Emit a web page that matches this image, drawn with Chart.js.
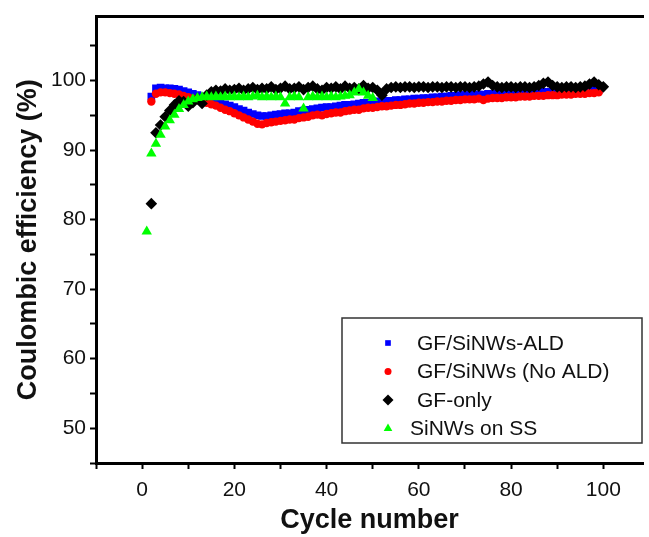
<!DOCTYPE html>
<html lang="en">
<head>
    <meta charset="UTF-8">
    <title>Coulombic efficiency vs cycle number</title>
    <script src="https://cdn.jsdelivr.net/npm/chart.js"></script>
    <style>
        body { margin: 0; background: #fff; overflow: hidden; }
        canvas { display: block; }
    </style>
</head>
<body>
    <canvas id="chart" width="649" height="537"></canvas>

    <script>
        // Series names (legend order)
        const seriesNames = ["GF/SiNWs-ALD", "GF/SiNWs (No ALD)", "GF-only", "SiNWs on SS"];

        // Coulombic efficiency (%), one value per cycle
        const aldStart = 2;
        const aldValues = [
            97.7, 98.9, 99.0, 98.9, 98.9, 98.8, 98.7, 98.5, 98.3,
            98.1, 97.9, 97.7, 97.5, 97.3, 97.1, 96.9, 96.6, 96.4, 96.2,
            95.9, 95.7, 95.4, 95.2, 95.0, 94.9, 94.9, 95.0, 95.1, 95.2,
            95.3, 95.3, 95.4, 95.6, 95.7, 95.8, 95.9, 96.0, 96.1, 96.2,
            96.2, 96.3, 96.4, 96.5, 96.5, 96.6, 96.7, 96.8, 96.8, 96.9,
            97.0, 97.0, 97.1, 97.1, 97.2, 97.2, 97.3, 97.3, 97.4, 97.4,
            97.5, 97.5, 97.6, 97.6, 97.7, 97.7, 97.8, 97.8, 97.9, 97.9,
            97.9, 98.0, 98.0, 98.0, 98.1, 98.1, 98.1, 98.2, 98.2, 98.2,
            98.3, 98.3, 98.3, 98.3, 98.4, 98.4, 98.4, 98.4, 98.5, 98.5,
            98.5, 98.5, 98.6, 98.6, 98.6, 98.6, 98.7, 98.7, 98.7
        ];

        const noAldStart = 2;
        const noAldValues = [
            97.0, 98.1, 98.3, 98.3, 98.2, 98.1, 98.0, 97.8, 97.6,
            97.4, 97.2, 97.0, 96.8, 96.6, 96.4, 96.1, 95.8, 95.6, 95.3,
            95.0, 94.7, 94.4, 94.1, 93.8, 93.7, 93.9, 94.0, 94.1, 94.2,
            94.3, 94.4, 94.4, 94.6, 94.7, 94.8, 95.0, 95.1, 95.0, 95.2,
            95.3, 95.4, 95.4, 95.6, 95.7, 95.8, 95.8, 96.0, 96.1, 96.1,
            96.2, 96.3, 96.3, 96.4, 96.5, 96.5, 96.6, 96.7, 96.7, 96.8,
            96.8, 96.9, 96.9, 97.0, 97.0, 97.1, 97.1, 97.2, 97.2, 97.3,
            97.3, 97.3, 97.4, 97.2, 97.4, 97.5, 97.5, 97.5, 97.6, 97.6,
            97.6, 97.7, 97.7, 97.7, 97.8, 97.8, 97.8, 97.9, 97.9, 97.9,
            98.0, 98.0, 98.0, 98.1, 98.1, 98.1, 98.2, 98.2, 98.3
        ];

        const gfStart = 2;
        const gfValues = [
            82.3, 92.5, 93.6, 94.8, 95.7, 96.5, 97.1, 97.0, 96.3,
            96.8, 97.4, 96.7, 97.9, 98.4, 98.6, 98.5, 98.8, 98.6, 98.7,
            98.9, 98.6, 98.8, 99.0, 98.7, 98.9, 98.8, 99.1, 98.7, 98.9,
            99.2, 98.8, 98.9, 99.1, 98.7, 99.0, 99.2, 98.8, 98.6, 99.0,
            98.9, 99.1, 98.8, 99.2, 98.9, 99.0, 98.8, 99.3, 98.9, 99.0,
            98.6, 97.9, 98.8, 99.0, 99.1, 99.0, 99.1, 99.1, 99.0, 99.1,
            99.1, 99.0, 99.1, 99.1, 99.0, 99.1, 99.1, 99.0, 99.1, 99.1,
            99.0, 99.1, 99.2, 99.5, 99.8, 99.3, 99.1, 99.0, 99.1, 99.1,
            99.0, 99.1, 99.1, 99.0, 99.1, 99.3, 99.6, 99.8, 99.3, 99.1,
            99.0, 99.1, 99.1, 99.0, 99.1, 99.2, 99.5, 99.8, 99.4, 99.1
        ];

        const ssStart = 1;
        const ssValues = [
            78.3, 89.5, 90.9, 92.2, 93.4, 94.3, 95.1, 95.9, 96.5, 97.0,
            97.3, 97.5, 97.6, 97.7, 97.6, 97.7, 97.6, 97.7, 97.6, 97.7,
            97.6, 97.7, 97.6, 97.7, 97.8, 97.6, 97.7, 97.6, 97.7, 97.6,
            96.7, 97.6, 97.7, 97.6, 96.0, 97.6, 97.7, 97.6, 97.7, 97.6,
            97.7, 97.6, 97.7, 97.8, 97.9, 98.3, 98.8, 98.3, 97.8, 97.5
        ];

        // Axis ticks
        const xTicks = [-10, 0, 10, 20, 30, 40, 50, 60, 70, 80, 90, 100];
        const xLabelled = [0, 20, 40, 60, 80, 100];
        const yTicks = [45, 50, 55, 60, 65, 70, 75, 80, 85, 90, 95, 100, 105];
        const yLabelled = [50, 60, 70, 80, 90, 100];

        function toPoints(start, values) {
            return values.map((v, i) => ({ x: start + i, y: v }));
        }

        const styles = [
            { color: "#0000ff", pointStyle: "rect", radius: 5.4, legendRadius: 4 },
            { color: "#ff0000", pointStyle: "circle", radius: 4.2, legendRadius: 3.5 },
            { color: "#000000", pointStyle: "rectRot", radius: 5.8, legendRadius: 5.5 },
            { color: "#00ff00", pointStyle: "triangle", radius: 6, legendRadius: 5 }
        ];

        const allData = [
            toPoints(aldStart, aldValues),
            toPoints(noAldStart, noAldValues),
            toPoints(gfStart, gfValues),
            toPoints(ssStart, ssValues)
        ];
        const drawOrder = [3, 2, 1, 0];

        const datasets = seriesNames.map((name, i) => ({
            label: name,
            data: allData[i],
            order: drawOrder[i],
            showLine: false,
            pointStyle: styles[i].pointStyle,
            pointRadius: styles[i].radius,
            pointBackgroundColor: styles[i].color,
            pointBorderColor: styles[i].color,
            pointBorderWidth: 0
        }));

        // Legend box drawn inside the plot like the original figure
        const boxLegend = {
            id: "boxLegend",
            afterDatasetsDraw(chart) {
                const ctx = chart.ctx;
                const box = { x: 342, y: 318, w: 300, h: 125 };
                ctx.save();
                ctx.fillStyle = "#fff";
                ctx.fillRect(box.x, box.y, box.w, box.h);
                ctx.strokeStyle = "#333";
                ctx.lineWidth = 1.5;
                ctx.strokeRect(box.x, box.y, box.w, box.h);
                ctx.font = "21px 'Liberation Sans', Arial, sans-serif";
                ctx.textBaseline = "middle";
                const textX = [417, 417, 417, 410];
                seriesNames.forEach((name, i) => {
                    const y = 343 + i * 28.5;
                    ctx.fillStyle = styles[i].color;
                    ctx.strokeStyle = styles[i].color;
                    Chart.helpers.drawPoint(ctx, {
                        pointStyle: styles[i].pointStyle,
                        radius: styles[i].legendRadius,
                        rotation: 0,
                        borderWidth: 0
                    }, 388, y);
                    ctx.fillStyle = "#111";
                    ctx.fillText(name, textX[i], y + 1);
                });
                ctx.restore();
            }
        };

        const tickFont = { family: "'Liberation Sans', Arial, sans-serif", size: 21 };
        const titleFont = { family: "'Liberation Sans', Arial, sans-serif", size: 27, weight: "bold" };

        new Chart(document.getElementById("chart"), {
            type: "scatter",
            data: { datasets },
            plugins: [boxLegend],
            options: {
                responsive: false,
                animation: false,
                layout: { padding: 0 },
                plugins: {
                    legend: { display: false },
                    tooltip: { enabled: false }
                },
                scales: {
                    x: {
                        type: "linear",
                        position: "bottom",
                        min: -10,
                        max: 108.6,
                        afterBuildTicks: s => { s.ticks = xTicks.map(v => ({ value: v })); },
                        afterFit: s => { s.height = 74; },
                        ticks: {
                            autoSkip: false,
                            maxRotation: 0,
                            padding: 9,
                            color: "#111",
                            font: tickFont,
                            callback: v => xLabelled.includes(v) ? String(v) : ""
                        },
                        grid: { drawOnChartArea: false, drawTicks: true, tickLength: 6, tickWidth: 2, tickColor: "#000" },
                        border: { display: true, color: "#000", width: 3 },
                        title: { display: true, text: "Cycle number", color: "#111", font: titleFont, padding: { top: 0, bottom: 0 } }
                    },
                    xTop: {
                        type: "linear",
                        position: "top",
                        min: -10,
                        max: 108.6,
                        afterBuildTicks: s => { s.ticks = []; },
                        afterFit: s => { s.height = 9; },
                        ticks: { display: false },
                        grid: { drawOnChartArea: false, drawTicks: false },
                        border: { display: true, color: "#000", width: 3 }
                    },
                    y: {
                        type: "linear",
                        position: "left",
                        min: 45,
                        max: 109.2,
                        afterBuildTicks: s => { s.ticks = yTicks.map(v => ({ value: v })); },
                        afterFit: s => { s.width = 96; },
                        ticks: {
                            autoSkip: false,
                            padding: 4,
                            color: "#111",
                            font: tickFont,
                            callback: v => yLabelled.includes(v) ? String(v) : ""
                        },
                        grid: { drawOnChartArea: false, drawTicks: true, tickLength: 6, tickWidth: 2, tickColor: "#000" },
                        border: { display: true, color: "#000", width: 3 },
                        title: { display: true, text: "Coulombic efficiency (%)", color: "#111", font: titleFont, padding: { top: 12, bottom: 0 } }
                    }
                }
            }
        });
    </script>
</body>
</html>
